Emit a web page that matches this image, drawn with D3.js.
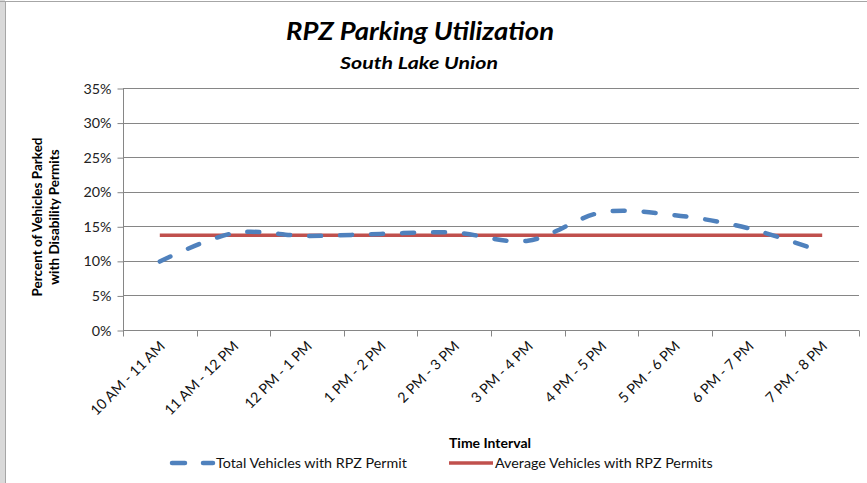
<!DOCTYPE html>
<html>
<head>
<meta charset="utf-8">
<script src="https://cdn.jsdelivr.net/npm/d3@7"></script>
<style>
  html, body { margin: 0; padding: 0; background: #fff; }
  svg { display: block; font-family: Lato, "Open Sans", sans-serif; }
</style>
</head>
<body>
<svg id="chart" width="867" height="483"></svg>
<script>
// Hourly intervals observed in South Lake Union
const timeIntervals = [
  "10 AM - 11 AM", "11 AM - 12 PM", "12 PM - 1 PM", "1 PM - 2 PM", "2 PM - 3 PM",
  "3 PM - 4 PM", "4 PM - 5 PM", "5 PM - 6 PM", "6 PM - 7 PM", "7 PM - 8 PM"
];
// Share of parked vehicles (with RPZ permit) carrying disability permits, in %
const totalVehiclesRPZ = [9.9, 14.0, 13.6, 13.9, 14.1, 12.9, 17.0, 16.6, 14.7, 11.3];
// Average over the day, repeated per interval
const averageVehiclesRPZ = [13.7, 13.7, 13.7, 13.7, 13.7, 13.7, 13.7, 13.7, 13.7, 13.7];
const yTicks = [0, 5, 10, 15, 20, 25, 30, 35];

const svg = d3.select("#chart");
const W = 867, H = 483;
const plot = { left: 123, right: 859, top: 88, bottom: 330 };
const labelSize = 14.3;

// frame around the chart
svg.append("rect").attr("x", 0).attr("y", 0).attr("width", 5).attr("height", H).attr("fill", "#d9d9d9");
svg.append("line").attr("x1", 5.5).attr("x2", 5.5).attr("y1", 1).attr("y2", H).attr("stroke", "#a6a6a6");
svg.append("line").attr("x1", 0).attr("x2", W).attr("y1", 1.5).attr("y2", 1.5).attr("stroke", "#a6a6a6");

const x = d3.scaleBand().domain(timeIntervals).range([plot.left, plot.right]);
const xc = d => x(d) + x.bandwidth() / 2;
const y = d3.scaleLinear().domain([0, 35]).range([plot.bottom, plot.top]);

// horizontal gridlines
svg.append("g")
  .selectAll("line").data(yTicks.filter(t => t > 0)).join("line")
  .attr("x1", plot.left).attr("x2", plot.right)
  .attr("y1", d => Math.round(y(d)) + 0.5).attr("y2", d => Math.round(y(d)) + 0.5)
  .attr("stroke", "#868686").attr("stroke-width", 1);

// y axis
const yAxis = svg.append("g")
  .attr("transform", `translate(${plot.left + 0.5},0.5)`)
  .call(d3.axisLeft(y).tickValues(yTicks).tickSize(6).tickPadding(6).tickFormat(d => d + "%"));
yAxis.select(".domain").attr("stroke", "#868686").attr("d", `M0,${plot.top}V${plot.bottom}`);
yAxis.selectAll(".tick line").attr("stroke", "#868686");
yAxis.selectAll(".tick text").attr("font-size", labelSize).attr("fill", "#222").attr("font-family", "Lato, sans-serif");

// x axis
const xAxis = svg.append("g")
  .attr("transform", `translate(0,${Math.round(plot.bottom) + 0.5})`)
  .call(d3.axisBottom(x).tickSize(0).tickFormat(""));
xAxis.select(".domain").attr("stroke", "#868686").attr("d", `M${plot.left},0H${plot.right}`);
const boundaries = timeIntervals.map(d => x(d)).concat([plot.right]);
xAxis.selectAll("line.bound").data(boundaries).join("line")
  .attr("class", "bound")
  .attr("x1", d => Math.round(d) + 0.5).attr("x2", d => Math.round(d) + 0.5)
  .attr("y1", 0).attr("y2", 6).attr("stroke", "#868686");

// rotated category labels
svg.append("g").selectAll("text").data(timeIntervals).join("text")
  .attr("transform", d => `translate(${xc(d) + 6},${plot.bottom + 17}) rotate(-45)`)
  .attr("text-anchor", "end")
  .attr("font-size", labelSize).attr("fill", "#111")
  .text(d => d);

// average line
const line = d3.line().x((d, i) => xc(timeIntervals[i])).y(d => y(d));
svg.append("path")
  .datum(averageVehiclesRPZ)
  .attr("d", line)
  .attr("fill", "none").attr("stroke", "#C0504D").attr("stroke-width", 3.5);

// smoothed total series
const smooth = d3.line().x((d, i) => xc(timeIntervals[i])).y(d => y(d)).curve(d3.curveCardinal.tension(0));
svg.append("path")
  .datum(totalVehiclesRPZ)
  .attr("d", smooth)
  .attr("fill", "none").attr("stroke", "#4F81BD").attr("stroke-width", 4.5)
  .attr("stroke-linecap", "round").attr("stroke-dasharray", "12,19");

// titles
svg.append("text").attr("x", 420).attr("y", 40).attr("text-anchor", "middle")
  .attr("font-size", 24).attr("font-weight", "bold").attr("font-style", "italic")
  .attr("textLength", 268).attr("lengthAdjust", "spacingAndGlyphs")
  .text("RPZ Parking Utilization");
svg.append("text").attr("x", 419).attr("y", 69).attr("text-anchor", "middle")
  .attr("font-size", 17).attr("font-weight", "bold").attr("font-style", "italic")
  .attr("textLength", 158).attr("lengthAdjust", "spacingAndGlyphs")
  .text("South Lake Union");

// y-axis title
const yTitle = svg.append("text")
  .attr("transform", "translate(0,217) rotate(-90)")
  .attr("text-anchor", "middle").attr("font-size", 13.5).attr("font-weight", "bold");
yTitle.append("tspan").attr("x", 0).attr("y", 42).text("Percent of Vehicles Parked");
yTitle.append("tspan").attr("x", 0).attr("y", 59).text("with Disability Permits");

// x-axis title
svg.append("text").attr("x", 490).attr("y", 448).attr("text-anchor", "middle")
  .attr("font-size", 14).attr("font-weight", "bold").text("Time Interval");

// legend
const legend = svg.append("g");
legend.append("line").attr("x1", 172).attr("x2", 213).attr("y1", 463).attr("y2", 463)
  .attr("stroke", "#4F81BD").attr("stroke-width", 4.5).attr("stroke-linecap", "round")
  .attr("stroke-dasharray", "13,18");
legend.append("text").attr("x", 216).attr("y", 468).attr("font-size", labelSize).attr("fill", "#111")
  .text("Total Vehicles with RPZ Permit");
legend.append("line").attr("x1", 449).attr("x2", 493).attr("y1", 463).attr("y2", 463)
  .attr("stroke", "#C0504D").attr("stroke-width", 3.5);
legend.append("text").attr("x", 495).attr("y", 468).attr("font-size", labelSize).attr("fill", "#111")
  .text("Average Vehicles with RPZ Permits");
</script>
</body>
</html>
